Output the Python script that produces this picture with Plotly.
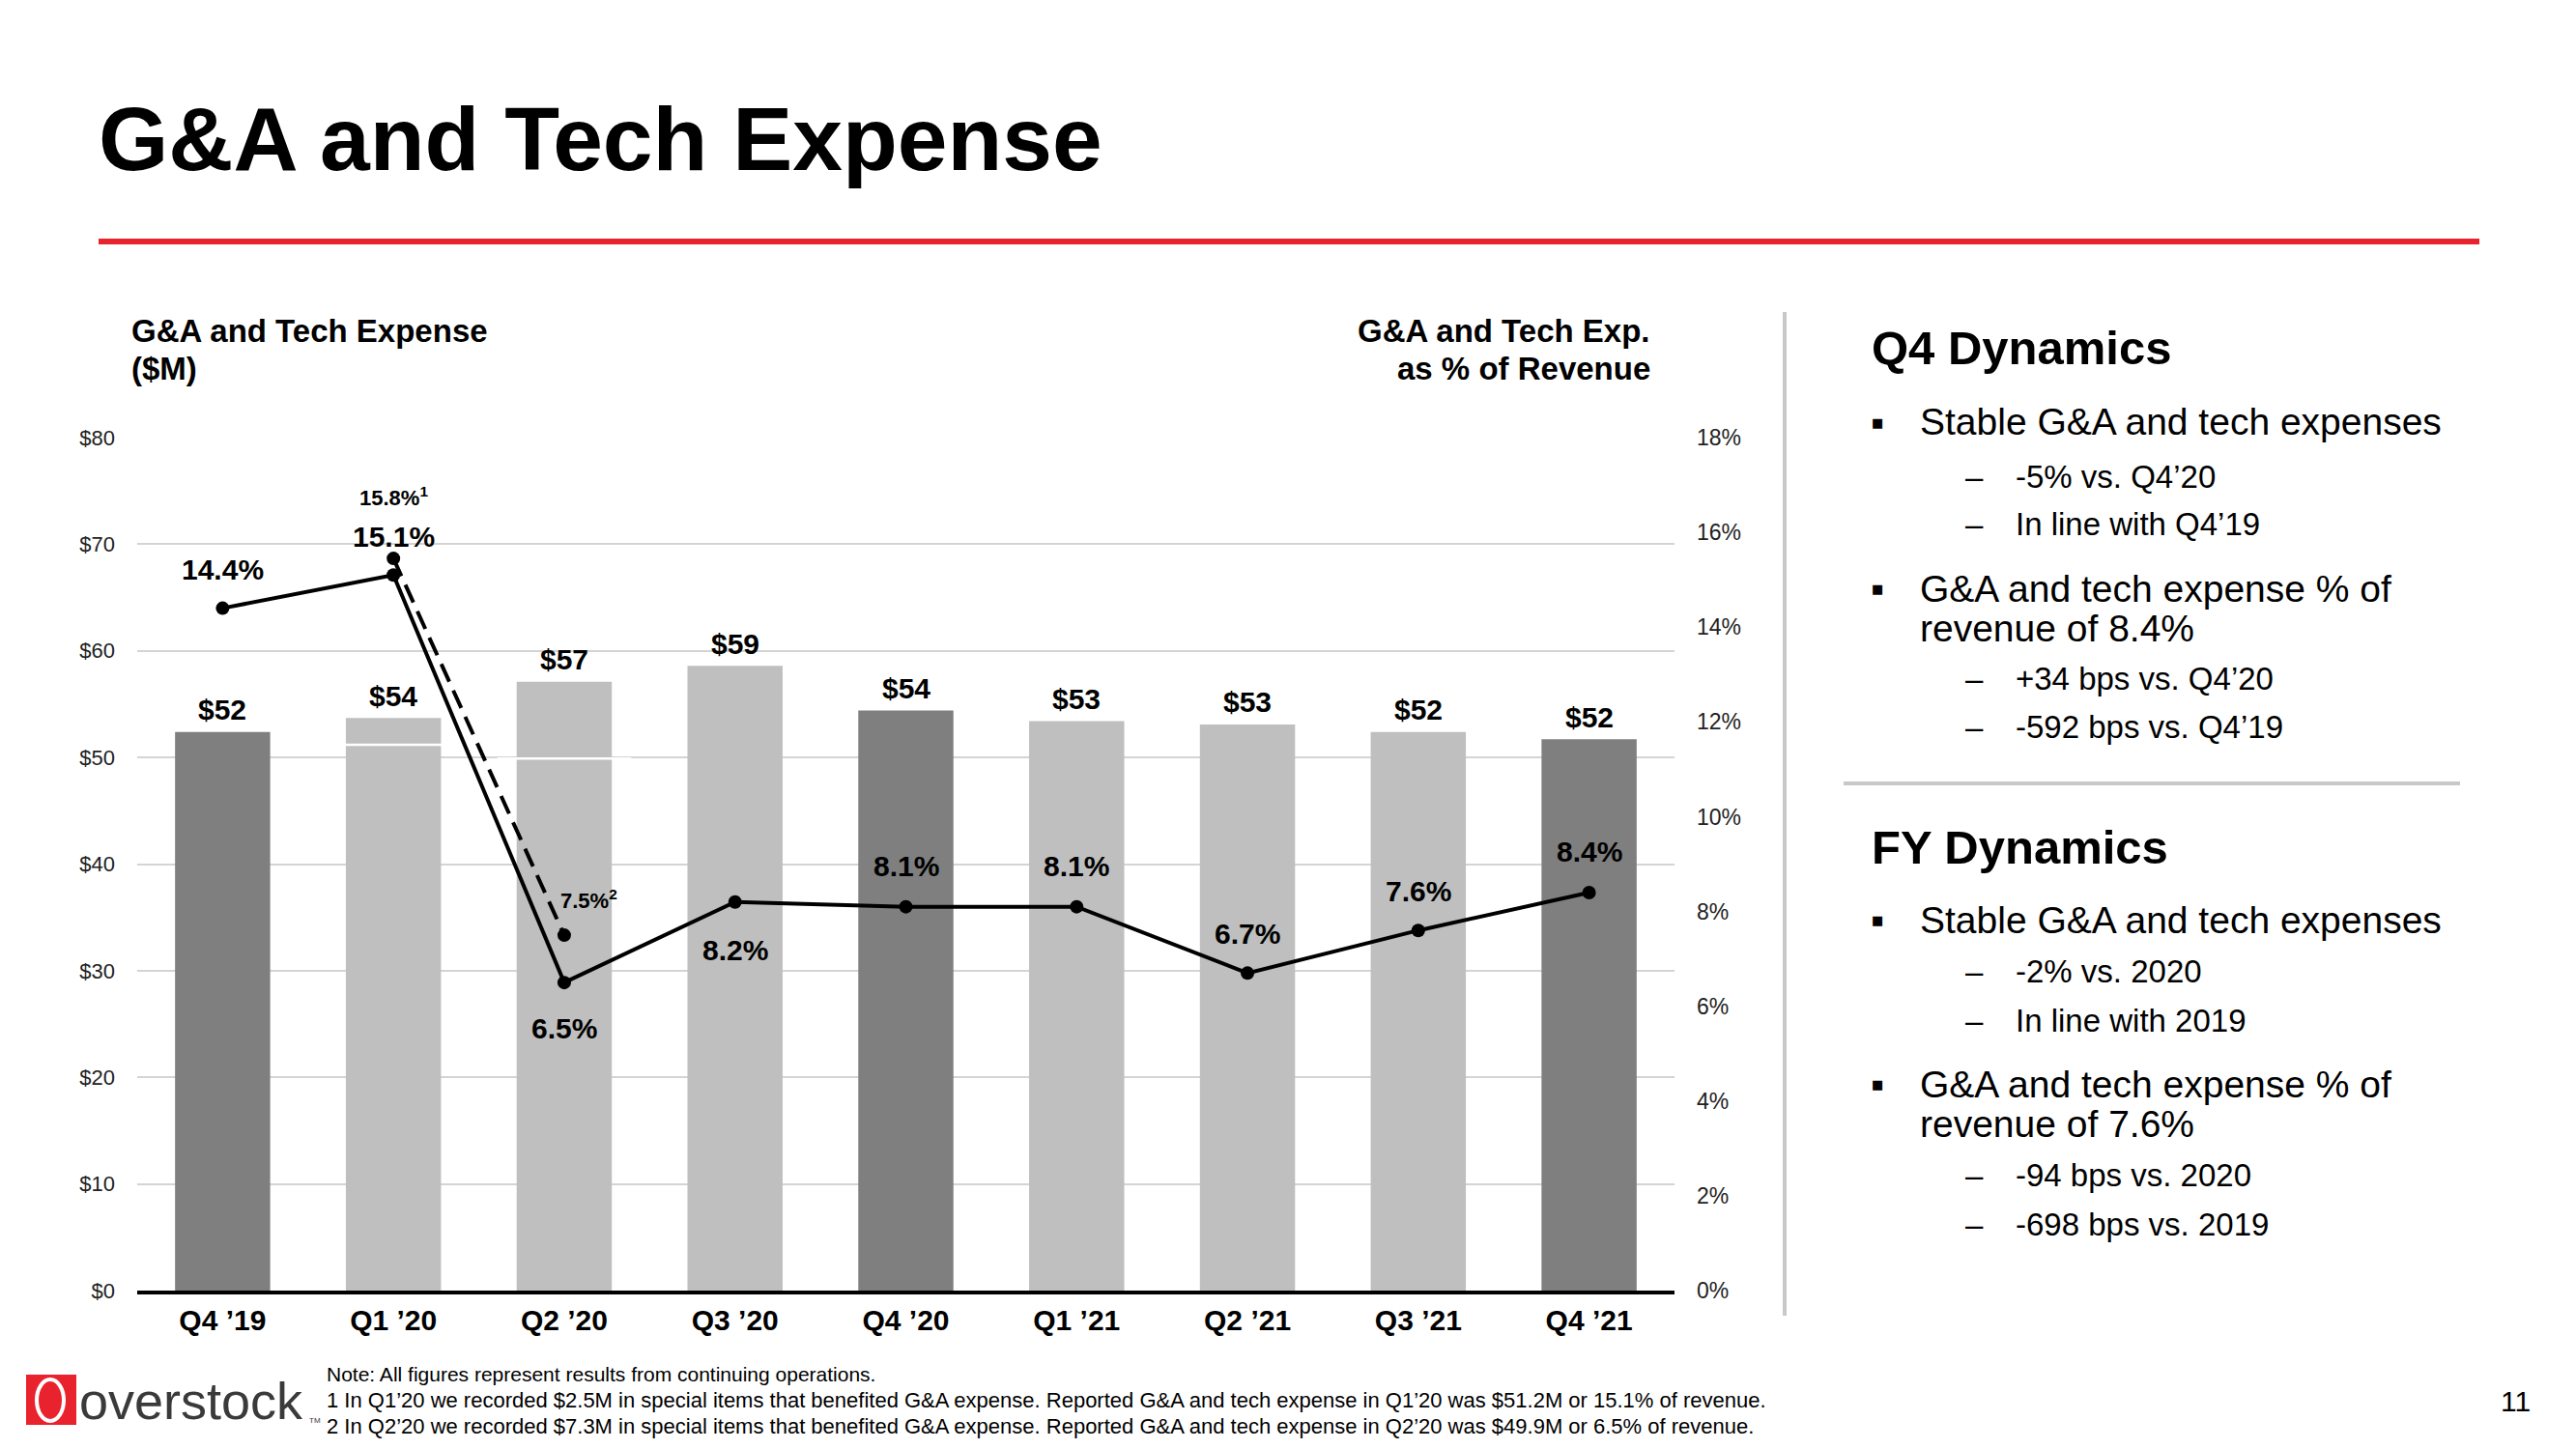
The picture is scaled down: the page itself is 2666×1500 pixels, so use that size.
import plotly.graph_objects as go

# ---------------- data ----------------
quarters = ["Q4 ’19", "Q1 ’20", "Q2 ’20", "Q3 ’20", "Q4 ’20", "Q1 ’21", "Q2 ’21", "Q3 ’21", "Q4 ’21"]
expense_m = [52.4, 53.7, 57.1, 58.6, 54.4, 53.4, 53.1, 52.4, 51.7]          # adjusted G&A and tech ($M)
reported_m = [None, 51.2, 49.9, None, None, None, None, None, None]       # reported (before special items)
pct_revenue = [14.4, 15.1, 6.5, 8.2, 8.1, 8.1, 6.7, 7.6, 8.4]             # reported % of revenue
pct_adjusted = [None, 15.45, 7.5, None, None, None, None, None, None]     # adjusted % (dashed)
pct_adjusted_labels = [None, "15.8%<sup>1</sup>", "7.5%<sup>2</sup>", None, None, None, None, None, None]

left_ticks = [0, 10, 20, 30, 40, 50, 60, 70, 80]
right_ticks = [0, 2, 4, 6, 8, 10, 12, 14, 16, 18]

# ---------------- style / layout constants ----------------
W, H = 2666, 1500
L, R, T, B = 142, 1733, 453, 1336
DARK, LIGHT = "#7F7F7F", "#BFBFBF"
RED = "#E8232E"
FONT = "Liberation Sans, Arial, sans-serif"
bar_colors = [DARK if q.startswith("Q4") else LIGHT for q in quarters]
pct_label_shift = [40, 40, -47, -50, 42, 42, 41, 41, 42]


def px(x):
    return (x - L) / (R - L)


def py(y):
    return (B - y) / (B - T)


fig = go.Figure()

fig.add_trace(go.Bar(
    x=quarters, y=expense_m, marker=dict(color=bar_colors, line=dict(width=0)),
    width=0.557, hoverinfo="skip", showlegend=False))

# thin white marks showing reported level inside Q1'20 / Q2'20 bars
fig.add_trace(go.Scatter(
    x=quarters, y=reported_m, mode="markers", showlegend=False, hoverinfo="skip",
    marker=dict(symbol="line-ew", size=99, line=dict(color="white", width=2.5))))

fig.add_trace(go.Scatter(
    x=quarters, y=pct_adjusted, yaxis="y2", mode="lines+markers", connectgaps=False,
    showlegend=False, hoverinfo="skip",
    line=dict(color="black", width=4, dash="20px,10px"),
    marker=dict(color="black", size=14)))

fig.add_trace(go.Scatter(
    x=quarters, y=pct_revenue, yaxis="y2", mode="lines+markers", showlegend=False,
    hoverinfo="skip", line=dict(color="black", width=4),
    marker=dict(color="black", size=14)))

ann = []
# bar value labels
for q, v in zip(quarters, expense_m):
    ann.append(dict(x=q, y=v, xref="x", yref="y", text=f"${v:.0f}", showarrow=False,
                    yanchor="middle", yshift=23, font=dict(family=FONT, size=30, color="black", weight="bold")))
# percentage labels
for q, v, s in zip(quarters, pct_revenue, pct_label_shift):
    ann.append(dict(x=q, y=v, xref="x", yref="y2", text=f"{v:.1f}%", showarrow=False,
                    yanchor="middle", yshift=s, font=dict(family=FONT, size=30, color="black", weight="bold")))
for q, v, t in zip(quarters, pct_adjusted, pct_adjusted_labels):
    if v is None:
        continue
    if t.startswith("15"):
        ann.append(dict(x=q, y=v, xref="x", yref="y2", text=t, showarrow=False,
                        yanchor="middle", yshift=64,
                        font=dict(family=FONT, size=22, color="black", weight="bold")))
    else:
        ann.append(dict(x=q, y=v, xref="x", yref="y2", text=t, showarrow=False,
                        xanchor="left", yanchor="middle", yshift=37, xshift=-6,
                        font=dict(family=FONT, size=22, color="black", weight="bold")))


def txt(x, y, text, size, bold=False, xanchor="left", color="black", align="left"):
    ann.append(dict(x=px(x), y=py(y), xref="paper", yref="paper", text=text, showarrow=False,
                    xanchor=xanchor, yanchor="middle", align=align,
                    font=dict(family=FONT, size=size, color=color, weight="bold" if bold else "normal")))


# title
txt(100, 144, "G&A and Tech Expense", 93, bold=True)
# axis headers
txt(134, 342, "G&A and Tech Expense", 33, bold=True)
txt(134, 381, "($M)", 33, bold=True)
txt(1710, 342, "G&A and Tech Exp.", 33, bold=True, xanchor="right")
txt(1710, 381, "as % of Revenue", 33, bold=True, xanchor="right")

# right panel
BX, TX, DX, SX = 1943, 1985, 2043, 2084
HB, HS, HH = 39, 33, 49
txt(1935, 360, "Q4 Dynamics", HH, bold=True)
txt(BX, 437, "▪", 40, xanchor="center")
txt(TX, 437, "Stable G&A and tech expenses", HB)
txt(DX, 493, "–", HS, xanchor="center")
txt(SX, 493, "-5% vs. Q4’20", HS)
txt(DX, 542, "–", HS, xanchor="center")
txt(SX, 542, "In line with Q4’19", HS)
txt(BX, 609, "▪", 40, xanchor="center")
txt(TX, 609, "G&A and tech expense % of", HB)
txt(TX, 650, "revenue of 8.4%", HB)
txt(DX, 702, "–", HS, xanchor="center")
txt(SX, 702, "+34 bps vs. Q4’20", HS)
txt(DX, 752, "–", HS, xanchor="center")
txt(SX, 752, "-592 bps vs. Q4’19", HS)

txt(1935, 877, "FY Dynamics", HH, bold=True)
txt(BX, 952, "▪", 40, xanchor="center")
txt(TX, 952, "Stable G&A and tech expenses", HB)
txt(DX, 1005, "–", HS, xanchor="center")
txt(SX, 1005, "-2% vs. 2020", HS)
txt(DX, 1056, "–", HS, xanchor="center")
txt(SX, 1056, "In line with 2019", HS)
txt(BX, 1122, "▪", 40, xanchor="center")
txt(TX, 1122, "G&A and tech expense % of", HB)
txt(TX, 1163, "revenue of 7.6%", HB)
txt(DX, 1216, "–", HS, xanchor="center")
txt(SX, 1216, "-94 bps vs. 2020", HS)
txt(DX, 1267, "–", HS, xanchor="center")
txt(SX, 1267, "-698 bps vs. 2019", HS)

# footer
txt(336, 1422, "Note: All figures represent results from continuing operations.", 21)
txt(336, 1449, "1 In Q1’20 we recorded $2.5M in special items that benefited G&A expense. Reported G&A and tech expense in Q1’20 was $51.2M or 15.1% of revenue.", 22)
txt(336, 1476, "2 In Q2’20 we recorded $7.3M in special items that benefited G&A expense. Reported G&A and tech expense in Q2’20 was $49.9M or 6.5% of revenue.", 22)
txt(2603, 1450, "11", 30, xanchor="center")
txt(80, 1450, "overstock", 54, color="#3a3a3a")
txt(318, 1470, "TM", 8, color="#3a3a3a")

shapes = [
    dict(type="line", xref="paper", yref="paper", x0=px(102), x1=px(2566), y0=py(250), y1=py(250),
         line=dict(color=RED, width=6)),
    dict(type="line", xref="paper", yref="paper", x0=px(1847), x1=px(1847), y0=py(323), y1=py(1362),
         line=dict(color="#C8C8C8", width=4)),
    dict(type="line", xref="paper", yref="paper", x0=px(1908), x1=px(2546), y0=py(811), y1=py(811),
         line=dict(color="#C8C8C8", width=4)),
    dict(type="rect", xref="paper", yref="paper", x0=px(27), x1=px(79), y0=py(1475), y1=py(1423),
         fillcolor=RED, line=dict(width=0)),
    dict(type="circle", xref="paper", yref="paper", x0=px(38), x1=px(66), y0=py(1471), y1=py(1428),
         fillcolor="rgba(0,0,0,0)", line=dict(color="white", width=4)),
]

fig.update_layout(
    width=W, height=H, autosize=False,
    margin=dict(l=L, r=W - R, t=T, b=H - B, pad=0),
    paper_bgcolor="white", plot_bgcolor="white",
    font=dict(family=FONT, color="black"),
    bargap=0.443,
    annotations=ann, shapes=shapes, showlegend=False,
    xaxis=dict(categoryorder="array", categoryarray=quarters, range=[-0.5, 8.5],
               showline=True, linecolor="black", linewidth=4, showgrid=False, zeroline=False,
               ticks="", ticklabelstandoff=1,
               tickfont=dict(family=FONT, size=30, color="black", weight="bold")),
    yaxis=dict(range=[0, 80], tickvals=left_ticks, ticktext=[f"${v}" for v in left_ticks],
               showgrid=True, gridcolor="#D4D4D4", gridwidth=1.5, zeroline=False,
               ticks="", ticklabelstandoff=22, tickfont=dict(family=FONT, size=22, color="#222222")),
    yaxis2=dict(range=[0, 18], tickvals=right_ticks, ticktext=[f"{v}%" for v in right_ticks],
                overlaying="y", side="right", showgrid=False, zeroline=False,
                ticks="", ticklabelstandoff=22, tickfont=dict(family=FONT, size=23, color="#222222")),
)

fig.write_html("out.html", config={"displayModeBar": False},
               post_script="document.body.style.margin='0';document.body.style.overflow='hidden';")
